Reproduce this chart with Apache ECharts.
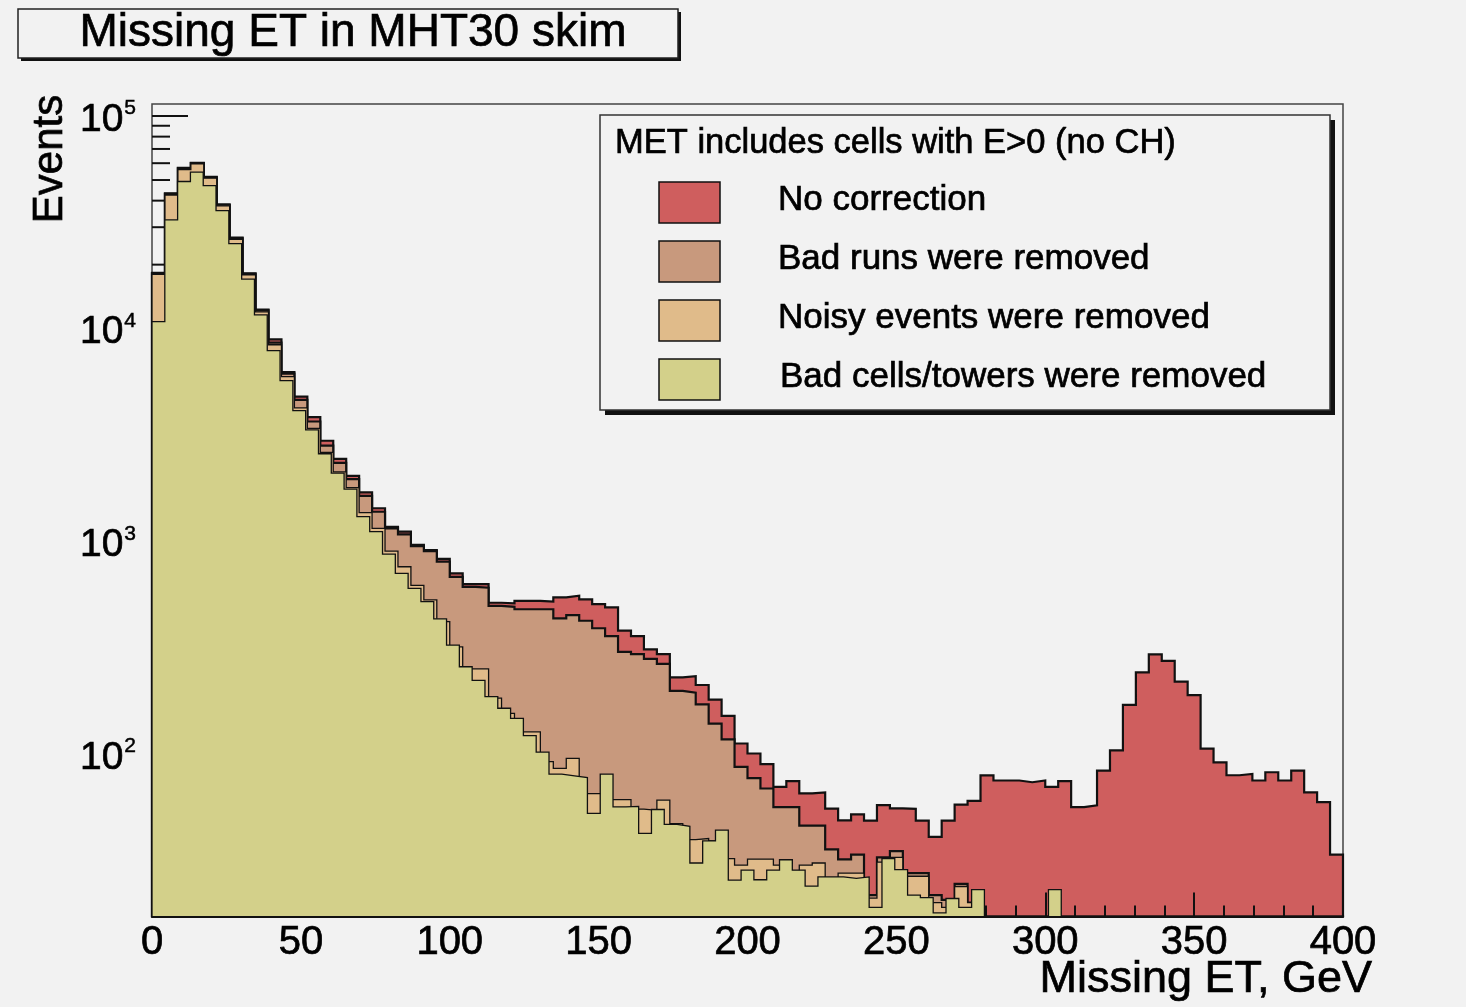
<!DOCTYPE html>
<html>
<head>
<meta charset="utf-8">
<script src="https://cdn.jsdelivr.net/npm/echarts@6/dist/echarts.min.js"></script>
<style>
html,body{margin:0;padding:0;background:#f2f2f2;}
#c{width:1466px;height:1007px;}
</style>
</head>
<body>
<div id="c"></div>
<script>
// ---------------- data ----------------
const xMin = 0, xMax = 400;
const yMin = 17.2, yMax = 113900;
const xTickLabels = ['0','50','100','150','200','250','300','350','400'];
const yLabelExponents = [2, 3, 4, 5];
const yMajorTicks = [100, 1000, 10000, 100000];
const yMinorTicks = [20,30,40,50,60,70,80,90,
  200,300,400,500,600,700,800,900,
  2000,3000,4000,5000,6000,7000,8000,9000,
  20000,30000,40000,50000,60000,70000,80000,90000];

const seriesNames = ['No correction','Bad runs were removed','Noisy events were removed','Bad cells/towers were removed'];

// 92 bins over 0-400 GeV
const noCorrection = [
 18300, 43300, 57000, 60300, 51800, 38400, 26800, 18200, 12300, 8900,
 6250, 4790, 3840, 2970, 2440, 2030, 1700, 1430, 1170, 1110,
 961, 910, 826, 706, 629, 629, 514, 511, 525, 525,
 520, 545, 555, 533, 507, 489, 380, 358, 310, 295,
 229, 232, 211, 180, 151, 112, 100.5, 89.5, 70, 74.5,
 65.3, 66, 55.3, 48.7, 52, 48.6, 57.4, 55.5, 55.2, 48.6,
 40.7, 48.6, 57.8, 60.1, 79.3, 75, 75, 73.6, 75, 70,
 74.5, 56.2, 57.3, 83.4, 104, 170, 242, 294, 274, 219,
 189, 106, 91.2, 79.4, 80.5, 75, 82, 75, 83.4, 66,
 59.3, 33.6];

const badRunsRemoved = [
 18200, 43000, 56700, 60000, 51500, 38100, 26600, 18100, 12200, 8600,
 6150, 4620, 3660, 2820, 2340, 1960, 1635, 1377, 1150, 1079,
 950, 900, 802, 681, 611, 605, 497, 492, 479, 479,
 479, 434, 450, 423, 390, 358, 302, 295, 280, 265,
 198, 194, 171, 139, 117, 87, 77, 68.8, 56.2, 56.2,
 46, 46, 35.6, 31.9, 33.6, 21.7, 32.6, 34.9, 27.5, 27.5,
 21.7, 20.6, 24.5, 20, 0, 0, 0, 0, 0, 0,
 0, 0, 0, 0, 0, 0, 0, 0, 0, 0,
 0, 0, 0, 0, 0, 0, 0, 0, 0, 0,
 0, 0];

const noisyRemoved = [
 18000, 42500, 56000, 59500, 51000, 37800, 26300, 17900, 12000, 8400,
 5950, 4240, 3400, 2620, 2120, 1790, 1365, 1150, 900, 759,
 620, 530, 419, 319, 251, 251, 183, 155, 127, 127,
 92, 85.5, 95.3, 65, 65, 61, 61, 55, 54.3, 60.7,
 47, 39.5, 40, 39, 32.2, 30, 32, 32, 30, 28,
 30, 30.7, 26, 27.5, 27.5, 21, 31, 32.6, 26.6, 26.6,
 20, 19, 23.8, 20, 0, 0, 0, 0, 0, 0,
 0, 0, 0, 0, 0, 0, 0, 0, 0, 0,
 0, 0, 0, 0, 0, 0, 0, 0, 0, 0,
 0, 0];

// 93 bins over 0-400 GeV
const badCellsRemoved = [
 10800, 32500, 49200, 54500, 47100, 35900, 25100, 17100, 11600, 7890,
 5700, 4120, 3340, 2580, 2090, 1760, 1307, 1110, 871, 706,
 601, 520, 432, 325, 257, 222, 186, 164, 147, 122,
 102, 80.3, 78.9, 77.5, 52.5, 80.3, 56.4, 56.7, 42.3, 54.8,
 46.6, 45.7, 30.7, 39.0, 43.8, 25.5, 28.4, 25.6, 28.4, 31.8,
 28.4, 23.9, 26.4, 26.4, 26.0, 26.4, 19.0, 32.2, 28.6, 21.7,
 21.1, 17.9, 20.9, 19.0, 23.0, 0, 0, 0, 0, 0,
 23.0, 0, 0, 0, 0, 0, 0, 0, 0, 0,
 0, 0, 0, 0, 0, 0, 0, 0, 0, 0,
 0, 0, 0];

const fillColors = ['#cf5e5e', '#c8997d', '#e0bb8a', '#d3d08a'];

// ---------------- build ----------------
const FONT = '"Liberation Sans", Arial, Helvetica, sans-serif';
const FONTFAM = '"Liberation Sans", Arial, sans-serif';

function stepPoints(vals) {
  const w = (xMax - xMin) / vals.length;
  const clampV = v => (v > yMin ? v : yMin);
  const pts = [[xMin, yMin]];
  vals.forEach((v, i) => pts.push([xMin + i * w, clampV(v)]));
  pts.push([xMax, clampV(vals[vals.length - 1])]);
  pts.push([xMax, yMin]);
  return pts;
}

function histSeries(name, vals, fill, lw, z) {
  return {
    name: name, type: 'line', data: stepPoints(vals), step: 'end',
    symbol: 'none', showSymbol: false, z: z, silent: true, animation: false, clip: true,
    lineStyle: { color: '#111', width: lw, join: 'miter', cap: 'square' },
    itemStyle: { color: fill },
    areaStyle: { color: fill, opacity: 1, origin: 'start' }
  };
}

const tickData = yMajorTicks.map(v => [xMin, v, 1]).concat(yMinorTicks.map(v => [xMin, v, 0]));

function txt(x, y, text, size, align, extra) {
  return Object.assign({ type: 'text', x: x, y: y, z: 102,
    style: { text: text, fill: '#000', stroke: '#000', lineWidth: 0.7, font: size + 'px ' + FONT,
      textAlign: align, textVerticalAlign: 'middle' } }, extra || {});
}

const legendTop = [182, 241, 300, 359];
const legendGraphics = [];
seriesNames.forEach((nm, i) => {
  legendGraphics.push({ type: 'rect', shape: { x: 659, y: legendTop[i], width: 61, height: 41 },
    style: { fill: fillColors[i], stroke: '#111', lineWidth: 1.5 }, z: 102 });
  legendGraphics.push(txt(i === 3 ? 780 : 778, legendTop[i] + 18, nm, 35, 'left'));
});

const option = {
  backgroundColor: '#f2f2f2',
  animation: false,
  grid: {
    left: 152, top: 104, width: 1191, height: 812.5,
    show: true, borderColor: '#444', borderWidth: 1.5, backgroundColor: 'transparent',
    containLabel: false, outerBoundsMode: 'none'
  },
  xAxis: [{
    type: 'value', min: xMin, max: xMax, interval: 50, z: 2,
    axisLine: { show: false },
    axisTick: { show: true, inside: true, length: 24, lineStyle: { color: '#111', width: 2 } },
    minorTick: { show: true, splitNumber: 5, length: 11, lineStyle: { color: '#111', width: 2 } },
    splitLine: { show: false }, minorSplitLine: { show: false },
    axisLabel: {
      margin: 6, color: '#000', fontSize: 40, lineHeight: 40, fontFamily: FONTFAM,
      textBorderColor: '#000', textBorderWidth: 0.7,
      formatter: v => xTickLabels[Math.round((v - xMin) / 50)] || ''
    }
  }, {
    type: 'value', min: xMin, max: xMax, position: 'bottom', z: 10,
    axisLine: { show: true, lineStyle: { color: '#111', width: 2 } },
    axisTick: { show: false }, axisLabel: { show: false }, splitLine: { show: false }
  }],
  yAxis: {
    type: 'log', logBase: 10, min: yMin, max: yMax,
    axisLine: { show: false }, axisTick: { show: false }, splitLine: { show: false },
    axisLabel: {
      margin: 16, showMinLabel: false, showMaxLabel: false, padding: [8, 0, 0, 0],
      formatter: v => {
        const l = Math.log10(v), e = Math.round(l);
        if (Math.abs(l - e) > 1e-6 || yLabelExponents.indexOf(e) < 0) return '';
        return '{b|10}{s|' + e + '}';
      },
      rich: {
        b: { fontSize: 39, lineHeight: 44, color: '#000', fontFamily: FONTFAM, textBorderColor: '#000', textBorderWidth: 0.7 },
        s: { fontSize: 21, lineHeight: 22, verticalAlign: 'top', color: '#000', padding: [0, 0, 0, 1], fontFamily: FONTFAM, textBorderColor: '#000', textBorderWidth: 0.5 }
      }
    }
  },
  series: [
    histSeries(seriesNames[0], noCorrection, fillColors[0], 2.2, 1),
    {
      type: 'custom', z: 2, silent: true, animation: false, data: tickData,
      renderItem: function (params, api) {
        const p = api.coord([api.value(0), api.value(1)]);
        const len = api.value(2) ? 36 : 18;
        return { type: 'line', shape: { x1: p[0], y1: p[1], x2: p[0] + len, y2: p[1] },
          style: { stroke: '#111', lineWidth: 2 } };
      }
    },
    histSeries(seriesNames[1], badRunsRemoved, fillColors[1], 2.2, 3),
    histSeries(seriesNames[2], noisyRemoved, fillColors[2], 1.3, 4),
    histSeries(seriesNames[3], badCellsRemoved, fillColors[3], 1.3, 5)
  ],
  graphic: { elements: [
    // title box
    { type: 'rect', shape: { x: 21, y: 12, width: 660, height: 49 }, style: { fill: '#111' }, z: 100 },
    { type: 'rect', shape: { x: 18, y: 9, width: 660, height: 49 }, style: { fill: '#f2f2f2', stroke: '#222', lineWidth: 1.5 }, z: 101 },
    txt(353, 33, 'Missing ET in MHT30 skim', 46, 'center'),
    // legend box
    { type: 'rect', shape: { x: 605, y: 120, width: 730, height: 295 }, style: { fill: '#111' }, z: 100 },
    { type: 'rect', shape: { x: 600, y: 115, width: 730, height: 295 }, style: { fill: '#f2f2f2', stroke: '#333', lineWidth: 1.5 }, z: 101 },
    txt(615, 143, 'MET includes cells with E>0 (no CH)', 34.5, 'left')
  ].concat(legendGraphics).concat([
    // axis titles
    txt(50, 159, 'Events', 42, 'center', { rotation: Math.PI / 2 }),
    txt(1372, 980, 'Missing ET, GeV', 45, 'right')
  ]) }
};

const chart = echarts.init(document.getElementById('c'), null, { renderer: 'canvas' });
chart.setOption(option);
</script>
</body>
</html>
